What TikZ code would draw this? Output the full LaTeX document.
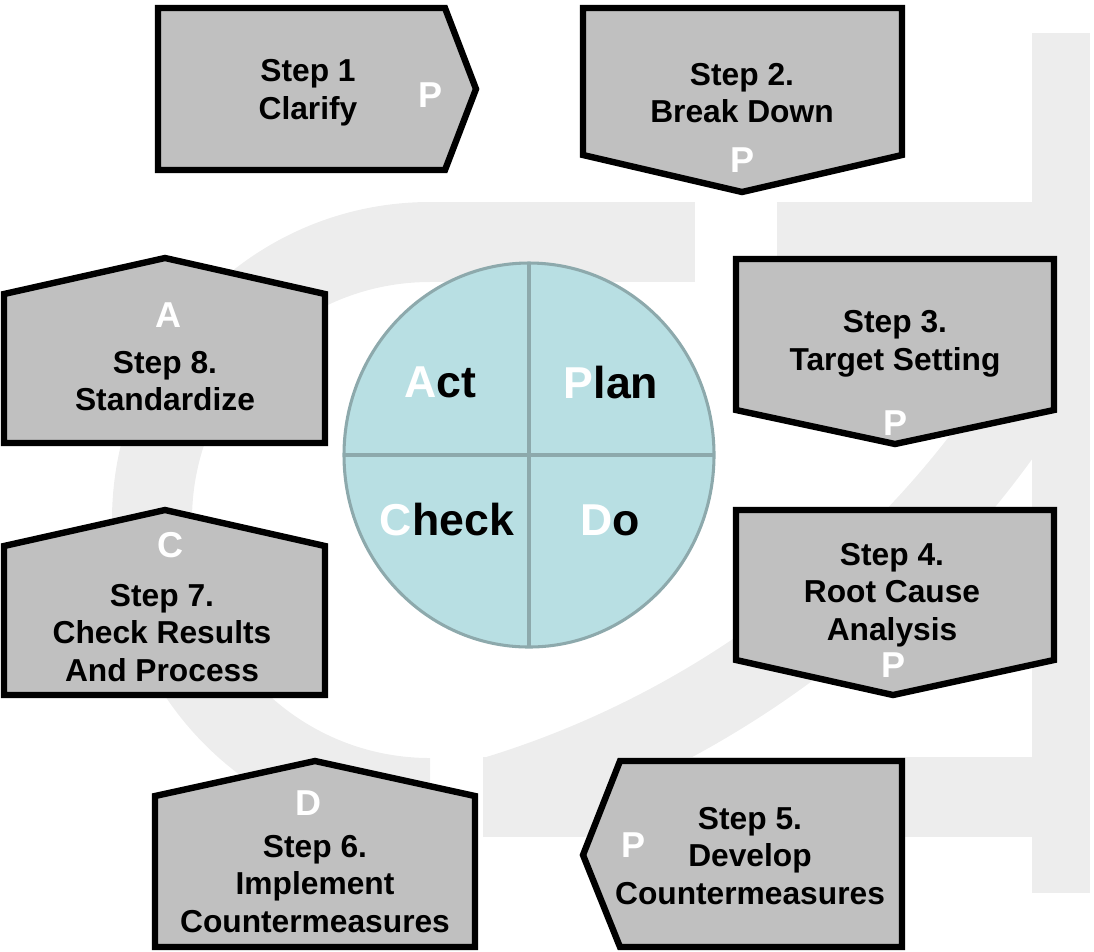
\documentclass[tikz,border=0pt]{standalone}
\usepackage{fontspec}
\setmainfont{Liberation Sans}
\usetikzlibrary{shapes.geometric}

\definecolor{boxgray}{HTML}{C0C0C0}
\definecolor{wmgray}{HTML}{EDEDED}
\definecolor{cyclefill}{HTML}{B8DFE3}
\definecolor{cycleedge}{HTML}{8DA9AC}

\newcommand\stepfont{\bfseries\fontsize{23.8}{28.2}\selectfont}
\newcommand\tagfont{\bfseries\fontsize{27}{30}\selectfont}
\newcommand\cyclefont{\bfseries\fontsize{33.5}{36}\selectfont}

\begin{document}
\begin{tikzpicture}[x=0.75pt, y=-0.75pt,
  wm/.style={fill=wmgray},
  stepbox/.style={draw=black, fill=boxgray, line width=4.8pt, line join=miter},
  steptext/.style={font=\stepfont, align=center, text=black, inner sep=0pt},
  tagtext/.style={font=\tagfont, text=white, inner sep=0pt},
  cyclenode/.style={ellipse, draw=cycleedge, fill=cyclefill, line width=2.3pt,
    minimum width=277.5pt, minimum height=288pt, inner sep=0pt, outer sep=0pt},
  cycleline/.style={draw=cycleedge, line width=2.3pt},
  cycletext/.style={font=\cyclefont, text=black, inner sep=0pt, anchor=base}]

\useasboundingbox (0,0) rectangle (1094,951);

% light logo in the background: a "C" ring ...
\begin{scope}
  \clip (100,190) rectangle (430,850);
  \fill[wm, even odd rule] (430,520) circle[radius=318] (430,520) circle[radius=238];
\end{scope}
\fill[wm] (430,202) rectangle (695,282);
% ... and the angular glyph on its right
\fill[wm] (1032,33) rectangle (1090,893);
\fill[wm] (777,202) rectangle (1032,282);
\fill[wm] (483,757) rectangle (1090,837);
\begin{scope}
  \clip (483,282) rectangle (1032,757.5);
  \fill[wm, even odd rule] (212,-134) circle[radius=1012] (212,-134) circle[radius=932];
\end{scope}

% step boxes
\draw[stepbox] (158,8) -- (445,8) -- (476,89) -- (445,170) -- (158,170) -- cycle;
\draw[stepbox] (583,8) -- (902,8) -- (902,155) -- (742,192) -- (583,155) -- cycle;
\draw[stepbox] (736,259) -- (1054,259) -- (1054,410) -- (895,444) -- (736,410) -- cycle;
\draw[stepbox] (736,510) -- (1054,510) -- (1054,660) -- (893,695) -- (736,660) -- cycle;
\draw[stepbox] (902,761) -- (902,947) -- (620,947) -- (583,855) -- (620,761) -- cycle;
\draw[stepbox] (155,947) -- (155,796) -- (315,761) -- (475,796) -- (475,947) -- cycle;
\draw[stepbox] (4,695) -- (4,546) -- (165,510) -- (325,546) -- (325,695) -- cycle;
\draw[stepbox] (4,443) -- (4,294) -- (165,258) -- (325,294) -- (325,443) -- cycle;

% step labels
\node[steptext] (s1) at (308,93) {Step 1\\Clarify};
\node[tagtext]  (t1) at (430,95) {P};
\node[steptext] (s2) at (742,93) {Step 2.\\Break Down};
\node[tagtext]  (t2) at (742,160) {P};
\node[steptext] (s3) at (895,344) {Step 3.\\Target Setting};
\node[tagtext]  (t3) at (895,423) {P};
\node[steptext] (s4) at (892,595) {Step 4.\\Root Cause\\Analysis};
\node[tagtext]  (t4) at (893,665) {P};
\node[steptext] (s5) at (750,856) {Step 5.\\Develop\\Countermeasures};
\node[tagtext]  (t5) at (633,845) {P};
\node[steptext] (s6) at (315,884) {Step 6.\\Implement\\Countermeasures};
\node[tagtext]  (t6) at (308,803) {D};
\node[steptext] (s7) at (162,633) {Step 7.\\Check Results\\And Process};
\node[tagtext]  (t7) at (170,545) {C};
\node[steptext] (s8) at (165,381) {Step 8.\\Standardize};
\node[tagtext]  (t8) at (168,315) {A};

% PDCA wheel
\node[cyclenode] (wheel) at (529,455) {};
\draw[cycleline] (wheel.north) -- (wheel.south);
\draw[cycleline] (wheel.west) -- (wheel.east);
\node[cycletext] (act)   at (440,397) {\textcolor{white}{A}ct};
\node[cycletext] (plan)  at (611,398) {\textcolor{white}{P}lan};
\node[cycletext] (check) at (447,535) {\textcolor{white}{C}heck};
\node[cycletext] (do)    at (610,535) {\textcolor{white}{D}o};

\end{tikzpicture}
\end{document}
